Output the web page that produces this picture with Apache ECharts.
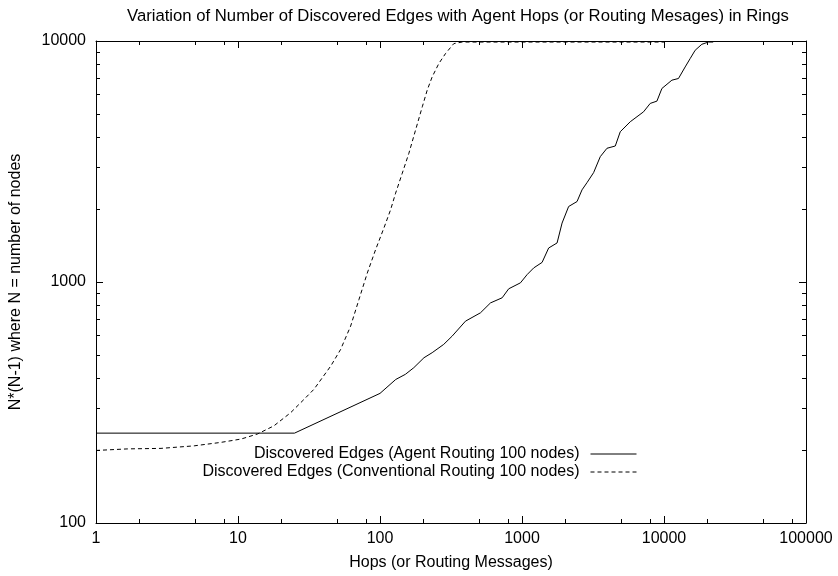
<!DOCTYPE html>
<html>
<head>
<meta charset="utf-8">
<script src="https://cdn.jsdelivr.net/npm/echarts@6/dist/echarts.min.js"></script>
<style>
  html, body { margin: 0; padding: 0; background: #fff; }
  #chart { width: 838px; height: 576px; }
</style>
</head>
<body>
<div id="chart"></div>
<script>
// Discovered edges vs. hops, ring of 100 nodes (log-log)
const chartTitle = 'Variation of Number of Discovered Edges with Agent Hops (or Routing Mesages) in Rings';
const xName = 'Hops (or Routing Messages)';
const yName = 'N*(N-1) where N = number of nodes';
const agentName = 'Discovered Edges (Agent Routing 100 nodes)';
const convName = 'Discovered Edges (Conventional Routing 100 nodes)';

// Agent routing
const agentHops = [1, 25, 100, 129, 151, 173, 204, 233, 281, 322,
  400, 510, 600, 725, 806, 975, 1086, 1209, 1385, 1541,
  1766, 1915, 2130, 2441, 2647, 2870, 3193, 3558, 3967, 4538,
  4920, 5785, 7177, 7998, 8914, 9665, 11363, 12647, 14093, 15280,
  16575, 18470, 20560, 22200];
const agentEdges = [236, 236, 345, 394, 414, 441, 485, 509, 551, 596,
  688, 745, 819, 860, 937, 992, 1073, 1144, 1206, 1384,
  1452, 1756, 2057, 2157, 2412, 2585, 2843, 3312, 3588, 3667,
  4202, 4623, 5083, 5508, 5630, 6353, 6877, 6989, 7805, 8453,
  9153, 9690, 9900, 9900];

// Conventional routing
const convHops = [1, 1.67, 2.87, 4.91, 7.57, 10.5, 13.7, 17.9, 23.5, 29.2,
  34.3, 45, 52.8, 62.1, 71.1, 81.4, 93.1, 106.5, 118.7, 128.8,
  143.5, 159.7, 178, 198.5, 215, 233, 259.6, 289.3, 331, 379, 10000];
const convEdges = [200, 203, 204, 209, 216, 223, 234, 253, 287, 326,
  359, 448, 525, 656, 846, 1090, 1362, 1674, 1993, 2337,
  2828, 3420, 4270, 5333, 6252, 7097, 8063, 8868, 9755, 9900, 9900];

// Axis ranges and ticks
const xMin = 1, xMax = 100000;
const yMin = 100, yMax = 10000;
const xTickLabels = ['1', '10', '100', '1000', '10000', '100000'];
const yTickLabels = ['100', '1000', '10000'];
const xMinorTicks = [2, 5, 8, 20, 50, 80, 200, 500, 800, 2000, 5000, 8000, 20000, 50000, 80000];
const yMinorTicks = [200, 300, 400, 500, 600, 700, 800, 900, 2000, 3000, 4000, 5000, 6000, 7000, 8000, 9000];

const FONT = '"Liberation Sans", Arial, Helvetica, sans-serif';

function labelFor(list) {
  return function (v) {
    const s = String(Math.round(v));
    return list.indexOf(s) >= 0 ? s : '';
  };
}

const tickLen = 7, minorLen = 4;

// Short inward minor ticks on both opposite borders
function minorTicks(values, dir) {
  return {
    type: 'custom',
    xAxisIndex: 0, yAxisIndex: 0,
    silent: true, z: 5,
    data: values.map(v => (dir === 'x' ? [v, yMin] : [xMin, v])),
    renderItem: function (params, api) {
      const st = { stroke: '#000', lineWidth: 1 };
      if (dir === 'x') {
        const v = api.value(0);
        const a = api.coord([v, yMin]);
        const b = api.coord([v, yMax]);
        const x = Math.round(a[0]) + 0.5;
        return { type: 'group', children: [
          { type: 'line', shape: { x1: x, y1: a[1], x2: x, y2: a[1] - minorLen }, style: st },
          { type: 'line', shape: { x1: x, y1: b[1], x2: x, y2: b[1] + minorLen }, style: st }
        ]};
      } else {
        const v = api.value(1);
        const a = api.coord([xMin, v]);
        const b = api.coord([xMax, v]);
        const y = Math.round(a[1]) + 0.5;
        return { type: 'group', children: [
          { type: 'line', shape: { x1: a[0], y1: y, x2: a[0] + minorLen, y2: y }, style: st },
          { type: 'line', shape: { x1: b[0], y1: y, x2: b[0] - minorLen, y2: y }, style: st }
        ]};
      }
    }
  };
}

const axisCommon = {
  type: 'log', logBase: 10,
  axisLine: { show: true, lineStyle: { color: '#000', width: 1 } },
  axisTick: { show: true, inside: true, length: tickLen, lineStyle: { color: '#000', width: 1 } },
  splitLine: { show: false },
  minorTick: { show: false }
};

// Legend keys: line sample only (the marker is made transparent)
const legendCommon = {
  selectedMode: false,
  right: 201, padding: 0, align: 'right',
  itemWidth: 46, itemHeight: 14,
  itemStyle: { opacity: 0, borderWidth: 0 },
  lineStyle: { width: 1 },
  textStyle: { fontFamily: FONT, fontSize: 16, color: '#000', padding: [0, 6, 0, 0] }
};

const chart = echarts.init(document.getElementById('chart'), null, { renderer: 'canvas' });

chart.setOption({
  animation: false,
  backgroundColor: '#fff',
  textStyle: { fontFamily: FONT, color: '#000' },
  title: {
    text: chartTitle,
    left: 127, top: 8, padding: 0,
    textStyle: { fontFamily: FONT, fontSize: 16.7, fontWeight: 'normal', color: '#000' }
  },
  grid: { left: 95, right: 32, top: 41, bottom: 52 },
  legend: [
    Object.assign({}, legendCommon, { data: [agentName], top: 446 }),
    Object.assign({}, legendCommon, { data: [convName], top: 464 })
  ],
  xAxis: [
    Object.assign({}, axisCommon, {
      min: xMin, max: xMax, splitNumber: 5, position: 'bottom',
      name: xName, nameLocation: 'middle', nameGap: 32,
      nameTextStyle: { fontFamily: FONT, fontSize: 16, color: '#000' },
      axisLabel: { show: true, margin: 8, fontFamily: FONT, fontSize: 16, color: '#000',
        formatter: labelFor(xTickLabels), showMinLabel: true, showMaxLabel: true }
    }),
    Object.assign({}, axisCommon, {
      min: xMin, max: xMax, splitNumber: 5, position: 'top',
      axisLabel: { show: false }
    })
  ],
  yAxis: [
    Object.assign({}, axisCommon, {
      min: yMin, max: yMax, splitNumber: 2, position: 'left',
      name: yName, nameLocation: 'middle', nameGap: 72,
      nameTextStyle: { fontFamily: FONT, fontSize: 16, color: '#000' },
      axisLabel: { show: true, margin: 10, fontFamily: FONT, fontSize: 16, color: '#000',
        formatter: labelFor(yTickLabels), showMinLabel: true, showMaxLabel: true }
    }),
    Object.assign({}, axisCommon, {
      min: yMin, max: yMax, splitNumber: 2, position: 'right',
      axisLabel: { show: false }
    })
  ],
  series: [
    {
      name: agentName, type: 'line',
      xAxisIndex: 0, yAxisIndex: 0,
      data: agentHops.map((h, i) => [h, agentEdges[i]]),
      symbol: 'none', showSymbol: false,
      lineStyle: { color: '#000', width: 1, type: 'solid' },
      itemStyle: { color: '#000' },
      z: 3
    },
    {
      name: convName, type: 'line',
      xAxisIndex: 0, yAxisIndex: 0,
      data: convHops.map((h, i) => [h, convEdges[i]]),
      symbol: 'none', showSymbol: false,
      lineStyle: { color: '#000', width: 1, type: [4, 3] },
      itemStyle: { color: '#000' },
      z: 3
    },
    minorTicks(xMinorTicks, 'x'),
    minorTicks(yMinorTicks, 'y')
  ]
});
</script>
</body>
</html>
